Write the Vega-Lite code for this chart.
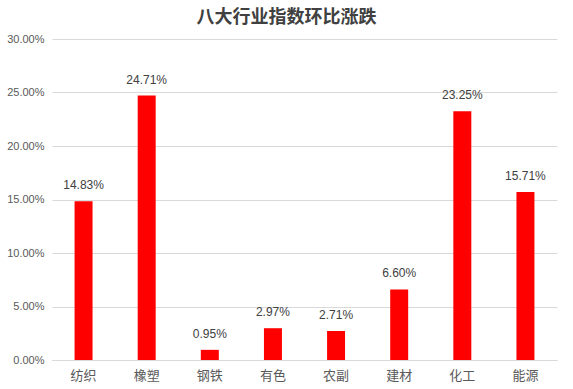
{
  "$schema": "https://vega.github.io/schema/vega-lite/v6.json",
  "autosize": "none",
  "width": 505,
  "height": 321,
  "padding": {"left": 52, "top": 39, "right": 16, "bottom": 29},
  "background": "white",
  "title": {
    "text": "八大行业指数环比涨跌",
    "font": "Noto Sans CJK SC",
    "fontSize": 18,
    "fontWeight": "bold",
    "color": "#404040",
    "anchor": "middle",
    "dx": -18,
    "offset": 6
  },
  "data": {
    "values": [
      {"industry": "纺织", "value": 0.1483},
      {"industry": "橡塑", "value": 0.2471},
      {"industry": "钢铁", "value": 0.0095},
      {"industry": "有色", "value": 0.0297},
      {"industry": "农副", "value": 0.0271},
      {"industry": "建材", "value": 0.0660},
      {"industry": "化工", "value": 0.2325},
      {"industry": "能源", "value": 0.1571}
    ]
  },
  "encoding": {
    "x": {
      "field": "industry",
      "type": "nominal",
      "sort": null,
      "scale": {"paddingInner": 0.715, "paddingOuter": 0.3575},
      "axis": {
        "title": null,
        "labelAngle": 0,
        "labelFont": "Noto Sans CJK SC",
        "labelFontSize": 13,
        "labelColor": "#595959",
        "labelPadding": 9,
        "ticks": false,
        "domain": true,
        "domainColor": "#d9d9d9",
        "domainWidth": 1
      }
    },
    "y": {
      "field": "value",
      "type": "quantitative",
      "scale": {"domain": [0, 0.3], "nice": false},
      "axis": {
        "title": null,
        "format": ".2%",
        "values": [0, 0.05, 0.1, 0.15, 0.2, 0.25, 0.3],
        "labelFont": "Liberation Sans",
        "labelFontSize": 11,
        "labelColor": "#595959",
        "labelPadding": 8,
        "ticks": false,
        "domain": false,
        "grid": true,
        "gridColor": "#d9d9d9",
        "gridWidth": 1
      }
    }
  },
  "layer": [
    {"mark": {"type": "bar", "color": "#ff0000"}},
    {
      "mark": {
        "type": "text",
        "baseline": "alphabetic",
        "dy": -12,
        "font": "Liberation Sans",
        "fontSize": 12,
        "color": "#404040"
      },
      "encoding": {
        "text": {"field": "value", "type": "quantitative", "format": ".2%"}
      }
    }
  ],
  "config": {"view": {"stroke": null}}
}
